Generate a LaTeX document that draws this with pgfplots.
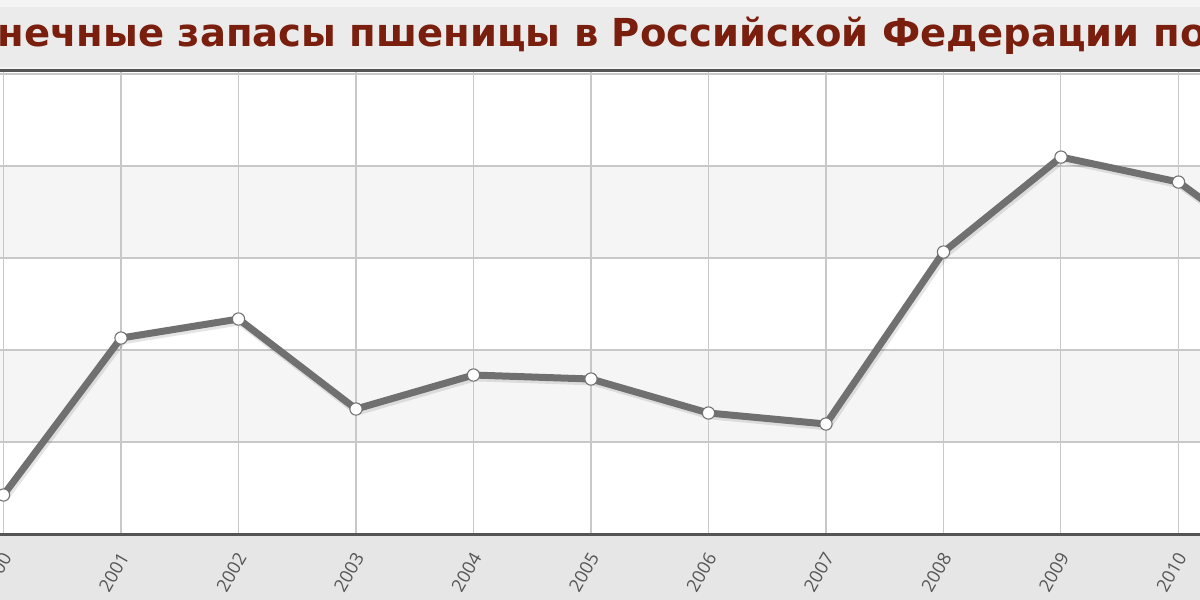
\documentclass[border=0pt]{standalone}
\usepackage{pgfplots}
\pgfplotsset{compat=1.18}
\usepackage{pgfplotstable}
\usepackage{fontspec}
\setmainfont{Open Sans}
\newfontfamily\titlefont{DejaVu Sans}
\definecolor{titlered}{RGB}{122,30,14}
\definecolor{linegray}{RGB}{112,112,112}
\definecolor{gridgray}{RGB}{200,200,200}
\definecolor{bandgray}{RGB}{245,245,245}
\definecolor{axisdark}{RGB}{85,85,85}
\definecolor{bottomband}{RGB}{230,230,230}
\definecolor{titleband}{RGB}{235,235,235}
\definecolor{topstrip}{RGB}{244,244,244}
\definecolor{ticktext}{RGB}{85,85,85}

\pgfplotstableread{
year value
2000 1272
2001 6391
2002 7011
2003 4076
2004 5185
2005 5054
2006 3946
2007 3587
2008 9196
2009 12293
2010 11478
2011 8670
}\stocks

\begin{document}
\begin{tikzpicture}
% background strips
\fill[topstrip] (0pt,397.5pt) rectangle (900pt,450pt);
\fill[titleband] (0pt,399.75pt) rectangle (900pt,444.75pt);
\fill[bottomband] (0pt,0pt) rectangle (900pt,48pt);
% alternating bands
\fill[bandgray] (0pt,118.5pt) rectangle (900pt,187.5pt);
\fill[bandgray] (0pt,256.5pt) rectangle (900pt,325.5pt);

\begin{axis}[
  at={(-41.44pt,49.5pt)}, anchor=south west, scale only axis,
  width=1057.5pt, height=347.25pt,
  xmin=1999.5, xmax=2011.5, ymin=0, ymax=15100,
  axis line style={draw=none},
  xtick={2000,...,2011}, ytick={0,3000,...,15000},
  yticklabels={}, major tick length=0pt,
  grid=major, major grid style={color=gridgray, line width=0.9pt},
  xticklabel style={xshift=2.5pt, yshift=-15pt, rotate=60, anchor=east,
    font=\fontsize{13.5}{13.5}\selectfont, text=ticktext, inner sep=0pt,
    /pgf/number format/1000 sep={}, /pgf/number format/assume math mode=true},
  clip=false,
]
\addplot[draw=black, opacity=0.10, line width=6.5pt, xshift=1pt, yshift=-1.5pt,
  no markers, line join=round] table[x=year,y=value]{\stocks};
\addplot[color=linegray, line width=5.25pt, line join=round, mark=*, mark size=4.6pt,
  mark options={fill=white, draw=linegray, line width=0.8pt}]
  table[x=year,y=value]{\stocks};
\draw[axisdark, line width=2.25pt] (rel axis cs:0,0) -- (rel axis cs:1,0);
\draw[axisdark, line width=2.25pt] (rel axis cs:0,1) -- (rel axis cs:1,1);
\end{axis}

\node[anchor=base west, inner sep=0pt, text=titlered,
  font=\titlefont\bfseries\fontsize{28.9}{29}\selectfont]
  at (-2pt,414.75pt) {\llap{Ко}нечные запасы пшеницы в Российской Федерации по годам};

\pgfresetboundingbox
\useasboundingbox (0pt,0pt) rectangle (900pt,450pt);
\end{tikzpicture}
\end{document}
